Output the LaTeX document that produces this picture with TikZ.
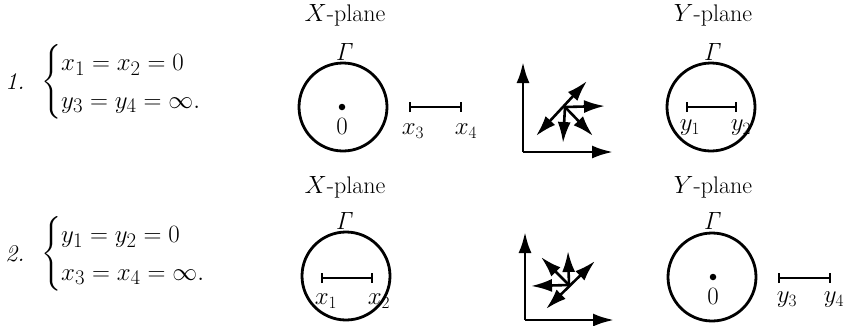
\documentclass[tikz,border=0pt]{standalone}
\usepackage{amsmath}
\usetikzlibrary{arrows.meta}
\begin{document}
\begin{tikzpicture}[x=1pt,y=-1pt, line width=2.4pt,
 lbl/.style={font=\fontsize{24}{28}\selectfont, inner sep=0pt},
 eq/.style={font=\fontsize{28}{31}\selectfont, inner sep=0pt, anchor=west},
 ring/.style={circle, draw, line width=2.8pt, minimum size=88pt, inner sep=0pt},
 pt/.style={circle, fill, minimum size=6.5pt, inner sep=0pt},
 seg/.style={line width=2.2pt, {Bar[width=10pt,line width=2.2pt]}-{Bar[width=10pt,line width=2.2pt]}},
 ax/.style={line width=2.8pt, -{Latex[length=21pt,width=13pt]}},
 ar/.style={line width=2.6pt, -{Latex[length=21pt,width=13pt]}},
 arr/.style={line width=2.6pt, {Latex[length=21pt,width=13pt]}-{Latex[length=21pt,width=13pt]}},
]
\useasboundingbox (0,0) rectangle (848,325);

% ---------- Row 1 ----------
\node[lbl] (n1) at (15,82) {\textit{1.}};
\node[eq] (e1) at (40,82) {$\begin{cases} x_1 = x_2 = 0\\ y_3 = y_4 = \infty.\end{cases}$};

\node[lbl] (xp1) at (345,15) {$X$-plane};
\node[lbl] (g1) at (345,52) {$\mathit{\Gamma}$};
\node[ring] (c1) at (343,107) {};
\node[pt] (o1) at (342,107) {};
\node[lbl] (z1) at (342,126) {$0$};
\coordinate (a3) at (409,107);
\coordinate (a4) at (462,107);
\draw[seg] (a3) -- (a4);
\node[lbl] (lx3) at (413,131) {$x_3$};
\node[lbl] (lx4) at (466,131) {$x_4$};

\coordinate (O1) at (523,152);
\coordinate (Y1) at (523,62);
\coordinate (X1) at (613,152);
\draw[ax] (O1) -- (Y1);
\draw[ax] (O1) -- (X1);
\coordinate (s1) at (565,107);
\coordinate (ur1) at (587,81);
\coordinate (ll1) at (536,136);
\coordinate (r1) at (605,106);
\coordinate (d1) at (563,143);
\coordinate (dr1) at (593,136);
\draw[arr] (ll1) -- (ur1);
\draw[ar] (s1) -- (r1);
\draw[ar] (s1) -- (d1);
\draw[ar] (s1) -- (dr1);

\node[lbl] (yp1) at (713,15) {$Y$-plane};
\node[lbl] (g2) at (713,52) {$\mathit{\Gamma}$};
\node[ring] (c2) at (711,107) {};
\coordinate (b1) at (686,107);
\coordinate (b2) at (737,107);
\draw[seg] (b1) -- (b2);
\node[lbl] (ly1) at (690,128) {$y_1$};
\node[lbl] (ly2) at (741,128) {$y_2$};

% ---------- Row 2 ----------
\node[lbl] (n2) at (15,254) {\textit{2.}};
\node[eq] (e2) at (40,254) {$\begin{cases} y_1 = y_2 = 0\\ x_3 = x_4 = \infty.\end{cases}$};

\node[lbl] (xp2) at (345,187) {$X$-plane};
\node[lbl] (g3) at (345,221) {$\mathit{\Gamma}$};
\node[ring] (c3) at (346,276) {};
\coordinate (p1) at (321,278);
\coordinate (p2) at (373,278);
\draw[seg] (p1) -- (p2);
\node[lbl] (lx1) at (326,301) {$x_1$};
\node[lbl] (lx2) at (379,301) {$x_2$};

\coordinate (O2) at (525,320);
\coordinate (Y2) at (525,232);
\coordinate (X2) at (614,320);
\draw[ax] (O2) -- (Y2);
\draw[ax] (O2) -- (X2);
\coordinate (s2) at (569,285);
\coordinate (up2) at (568,251);
\coordinate (ul2) at (541,257);
\coordinate (ur2) at (595,261);
\coordinate (l2) at (531,286);
\coordinate (ll2) at (546,309);
\draw[ar] (s2) -- (up2);
\draw[ar] (s2) -- (ul2);
\draw[ar] (s2) -- (l2);
\draw[arr] (ll2) -- (ur2);

\node[lbl] (yp2) at (713,187) {$Y$-plane};
\node[lbl] (g4) at (713,221) {$\mathit{\Gamma}$};
\node[ring] (c4) at (712,277) {};
\node[pt] (o2) at (713,277) {};
\node[lbl] (z2) at (713,296) {$0$};
\coordinate (q3) at (778,278);
\coordinate (q4) at (831,278);
\draw[seg] (q3) -- (q4);
\node[lbl] (ly3) at (787,300) {$y_3$};
\node[lbl] (ly4) at (834,300) {$y_4$};
\end{tikzpicture}
\end{document}
